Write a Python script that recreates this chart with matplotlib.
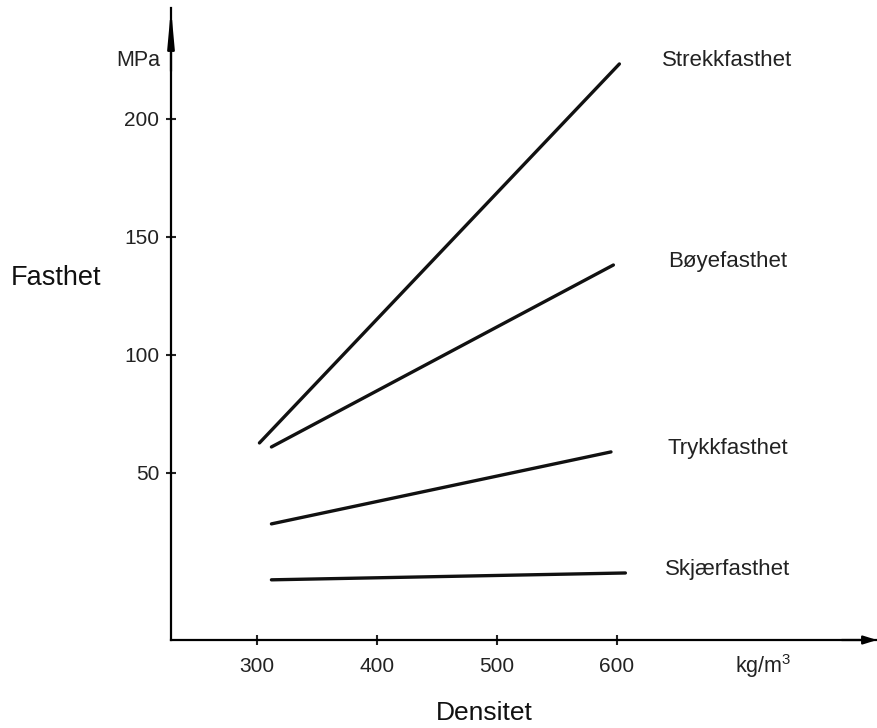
import numpy as np
import matplotlib.pyplot as plt

plt.rcParams['font.family'] = ['Liberation Sans', 'DejaVu Sans']
plt.rcParams['mathtext.fontset'] = 'custom'
plt.rcParams['mathtext.rm'] = 'Liberation Sans'

# Data (density kg/m3, strength MPa)
names = ["Strekkfasthet", "Bøyefasthet", "Trykkfasthet", "Skjærfasthet"]
dens_start = [302, 312, 312, 312]
dens_end = [602, 597, 595, 607]
str_start = [62.7, 61.0, 28.4, 4.7]
str_end = [223.3, 138.1, 58.9, 7.6]

xticks = [300, 400, 500, 600]
yticks = [50, 100, 150, 200]

W, H = 878, 728
fig = plt.figure(figsize=(W / 100, H / 100), dpi=100)

# axes box: y-axis at px 171, x-axis at px 640, right tip 877, top tip 8
left, right, top, bottom = 171, 877, 8, 640
ax = fig.add_axes([left / W, (H - bottom) / H, (right - left) / W, (bottom - top) / H])
ax.set_xlim(228.3, 816.7)
ax.set_ylim(-20.8, 247)

for s in ["top", "right"]:
    ax.spines[s].set_visible(False)
for s in ["left", "bottom"]:
    ax.spines[s].set_linewidth(1.6)

ax.set_xticks(xticks)
ax.set_yticks(yticks)
ax.tick_params(direction="inout", length=7, width=1.5, labelsize=15, colors="#222222")
ax.tick_params(axis="x", pad=9)
ax.tick_params(axis="y", pad=5)

# arrow heads
ax.annotate("", xy=(0, 1), xytext=(0, 0.9), xycoords="axes fraction",
            arrowprops=dict(arrowstyle="-|>,head_length=2.2,head_width=0.2",
                            lw=1.6, color="black", shrinkA=0, shrinkB=0))
ax.annotate("", xy=(1, 0), xytext=(0.95, 0), xycoords="axes fraction",
            arrowprops=dict(arrowstyle="-|>,head_length=0.8,head_width=0.25",
                            lw=1.6, color="black", shrinkA=0, shrinkB=0))

for name, x0, x1, y0, y1 in zip(names, dens_start, dens_end, str_start, str_end):
    ax.plot([x0, x1], [y0, y1], color="#111111", lw=2.4, solid_capstyle="round")
    ax.text(692, y1 + 1.5, name, fontsize=16, ha="center", va="center", color="#222222")

fig.text(138 / W, 1 - 60 / H, "MPa", fontsize=15.5, ha="center", va="center", color="#222222")
fig.text(763 / W, 1 - 666 / H, "kg/m$^3$", fontsize=15.5, ha="center", va="center", color="#222222")
fig.text(56 / W, 1 - 278 / H, "Fasthet", fontsize=19.5, ha="center", va="center", color="#111111")
fig.text(484 / W, 1 - 713 / H, "Densitet", fontsize=19, ha="center", va="center", color="#111111")

fig.savefig("out.png", dpi=100, facecolor="white")
